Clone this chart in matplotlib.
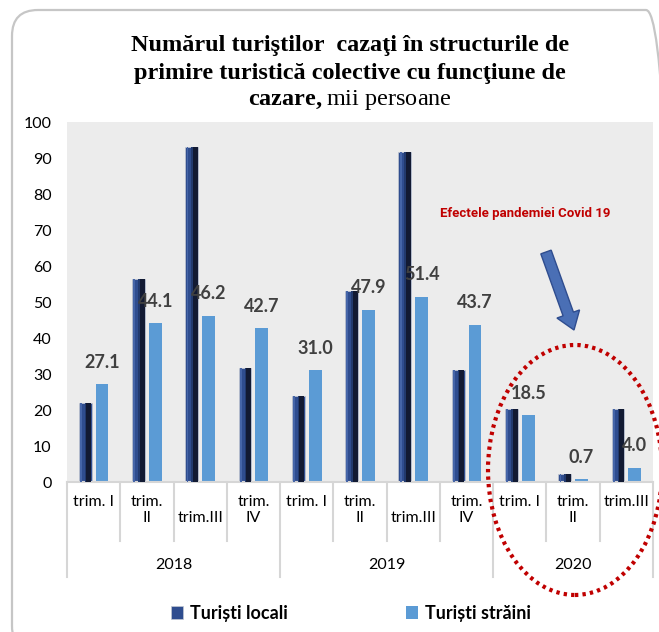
import numpy as np
import matplotlib
matplotlib.use("Agg")
import matplotlib.pyplot as plt
from matplotlib.patches import FancyBboxPatch, Ellipse, FancyArrow

plt.rcParams["mathtext.fontset"] = "custom"
plt.rcParams["mathtext.rm"] = "Liberation Serif"
plt.rcParams["mathtext.bf"] = "Liberation Serif:bold"

# date
trimestre = ["trim. I", "trim.\nII", "\ntrim.III", "trim.\nIV",
             "trim. I", "trim.\nII", "\ntrim.III", "trim.\nIV",
             "trim. I", "trim.\nII", "trim.III"]
ani = ["2018", "2019", "2020"]
trim_pe_an = [4, 4, 3]
turisti_locali = [22.0, 56.5, 93.0, 31.8, 24.0, 53.0, 91.6, 31.2, 20.3, 2.2, 20.3]
turisti_straini = [27.1, 44.1, 46.2, 42.7, 31.0, 47.9, 51.4, 43.7, 18.5, 0.7, 4.0]

W, H = 659, 632
fig = plt.figure(figsize=(W / 100, H / 100), dpi=100)
fig.patch.set_facecolor("white")

# chenar rotunjit
chenar = FancyBboxPatch((12, -20), 660, 642, boxstyle="round,pad=0,rounding_size=26",
                        transform=None, fill=False, edgecolor="#c6c6c6", lw=1.6)
fig.patches.append(chenar)

ax = fig.add_axes([67 / W, 1 - 482 / H, (653 - 67) / W, 360 / H])
ax.set_facecolor("#ececec")

x = np.arange(len(turisti_locali))
w = 0.24
off = 0.158
b1 = ax.bar(x - off, turisti_locali, w, color="#2f4d8f", edgecolor="#c3c8d2", lw=0.5,
            label="Turiști locali", zorder=2)
ax.bar(x - off + w * 0.28, turisti_locali, w * 0.40, color="#121a33", lw=0, zorder=3)
ax.bar(x - off + w * 0.03, turisti_locali, w * 0.12, color="#223a6e", lw=0, zorder=3)
ax.bar(x - off - w * 0.33, turisti_locali, w * 0.14, color="#4565a8", lw=0, zorder=3)
b2 = ax.bar(x + off, turisti_straini, w, color="#5b9bd5", lw=0,
            label="Turiști străini", zorder=2)

for xi, v in zip(x, turisti_straini):
    ax.annotate(f"{v:.1f}", (xi + off, v), xytext=(0, 16), textcoords="offset points",
                ha="center", va="center", fontsize=13, fontweight="bold",
                color="#404040", family="Lato", zorder=5)

ax.set_xlim(-0.5, len(x) - 0.5)
ax.set_ylim(0, 100)
ax.set_yticks(range(0, 101, 10))
ax.tick_params(axis="y", length=0, pad=11, labelsize=11.5)
for t in ax.get_yticklabels():
    t.set_family("Lato")
ax.set_xticks([])
for s in ax.spines.values():
    s.set_visible(False)

# axa x pe doua niveluri
tr = ax.get_xaxis_transform()
lc = "#d6d6d6"
ax.plot([-0.5, len(x) - 0.5], [0, 0], color=lc, lw=1.5, transform=tr, clip_on=False)
granite_ani = np.cumsum([0] + trim_pe_an) - 0.5
for b in np.arange(len(x) + 1) - 0.5:
    jos = -0.264 if b in granite_ani else -0.164
    ax.plot([b, b], [0, jos], color=lc, lw=1.5, transform=tr, clip_on=False)
for xi, lab in zip(x, trimestre):
    ax.text(xi, -0.035, lab, transform=tr, ha="center", va="top", fontsize=11.5,
            family="Lato", linespacing=1.25)
for i, an in enumerate(ani):
    ax.text((granite_ani[i] + granite_ani[i + 1]) / 2, -0.23, an, transform=tr,
            ha="center", va="center", fontsize=11.5, family="Lato")

# titlu
fig.text(350 / W, 1 - 45 / H, "Numărul turiştilor  cazaţi în structurile de",
         ha="center", va="center", fontsize=17.5, fontweight="bold", family="Liberation Serif")
fig.text(350 / W, 1 - 73 / H, "primire turistică colective cu funcţiune de",
         ha="center", va="center", fontsize=17.5, fontweight="bold", family="Liberation Serif")
fig.text(350 / W, 1 - 100 / H, r"$\mathbf{cazare,}$" + "mii persoane",
         ha="center", va="center", fontsize=17.5, family="Liberation Serif")

# adnotare covid
fig.text(525 / W, 1 - 214 / H, "Efectele pandemiei Covid 19", ha="center", va="center",
         fontsize=9.5, fontweight="bold", color="#c00000", family="Roboto")
sag = FancyArrow(546, H - 252, 28, -78, width=11, head_width=24, head_length=17,
                 length_includes_head=True, transform=None, facecolor="#4a6fb5",
                 edgecolor="#2f4d8f", lw=1)
fig.patches.append(sag)
elp = Ellipse((575, H - 470), 174, 250, transform=None, fill=False,
              edgecolor="#c00000", lw=3, linestyle=(0, (0.8, 1.0)))
fig.patches.append(elp)

leg = fig.legend(handles=[b1, b2], loc="center", bbox_to_anchor=(351 / W, 1 - 613 / H),
                 ncol=2, frameon=False, columnspacing=6.5, handlelength=0.7,
                 handleheight=0.7, handletextpad=0.4,
                 prop={"family": "Lato", "weight": "bold", "size": 13})

fig.savefig("out.png", dpi=100)
